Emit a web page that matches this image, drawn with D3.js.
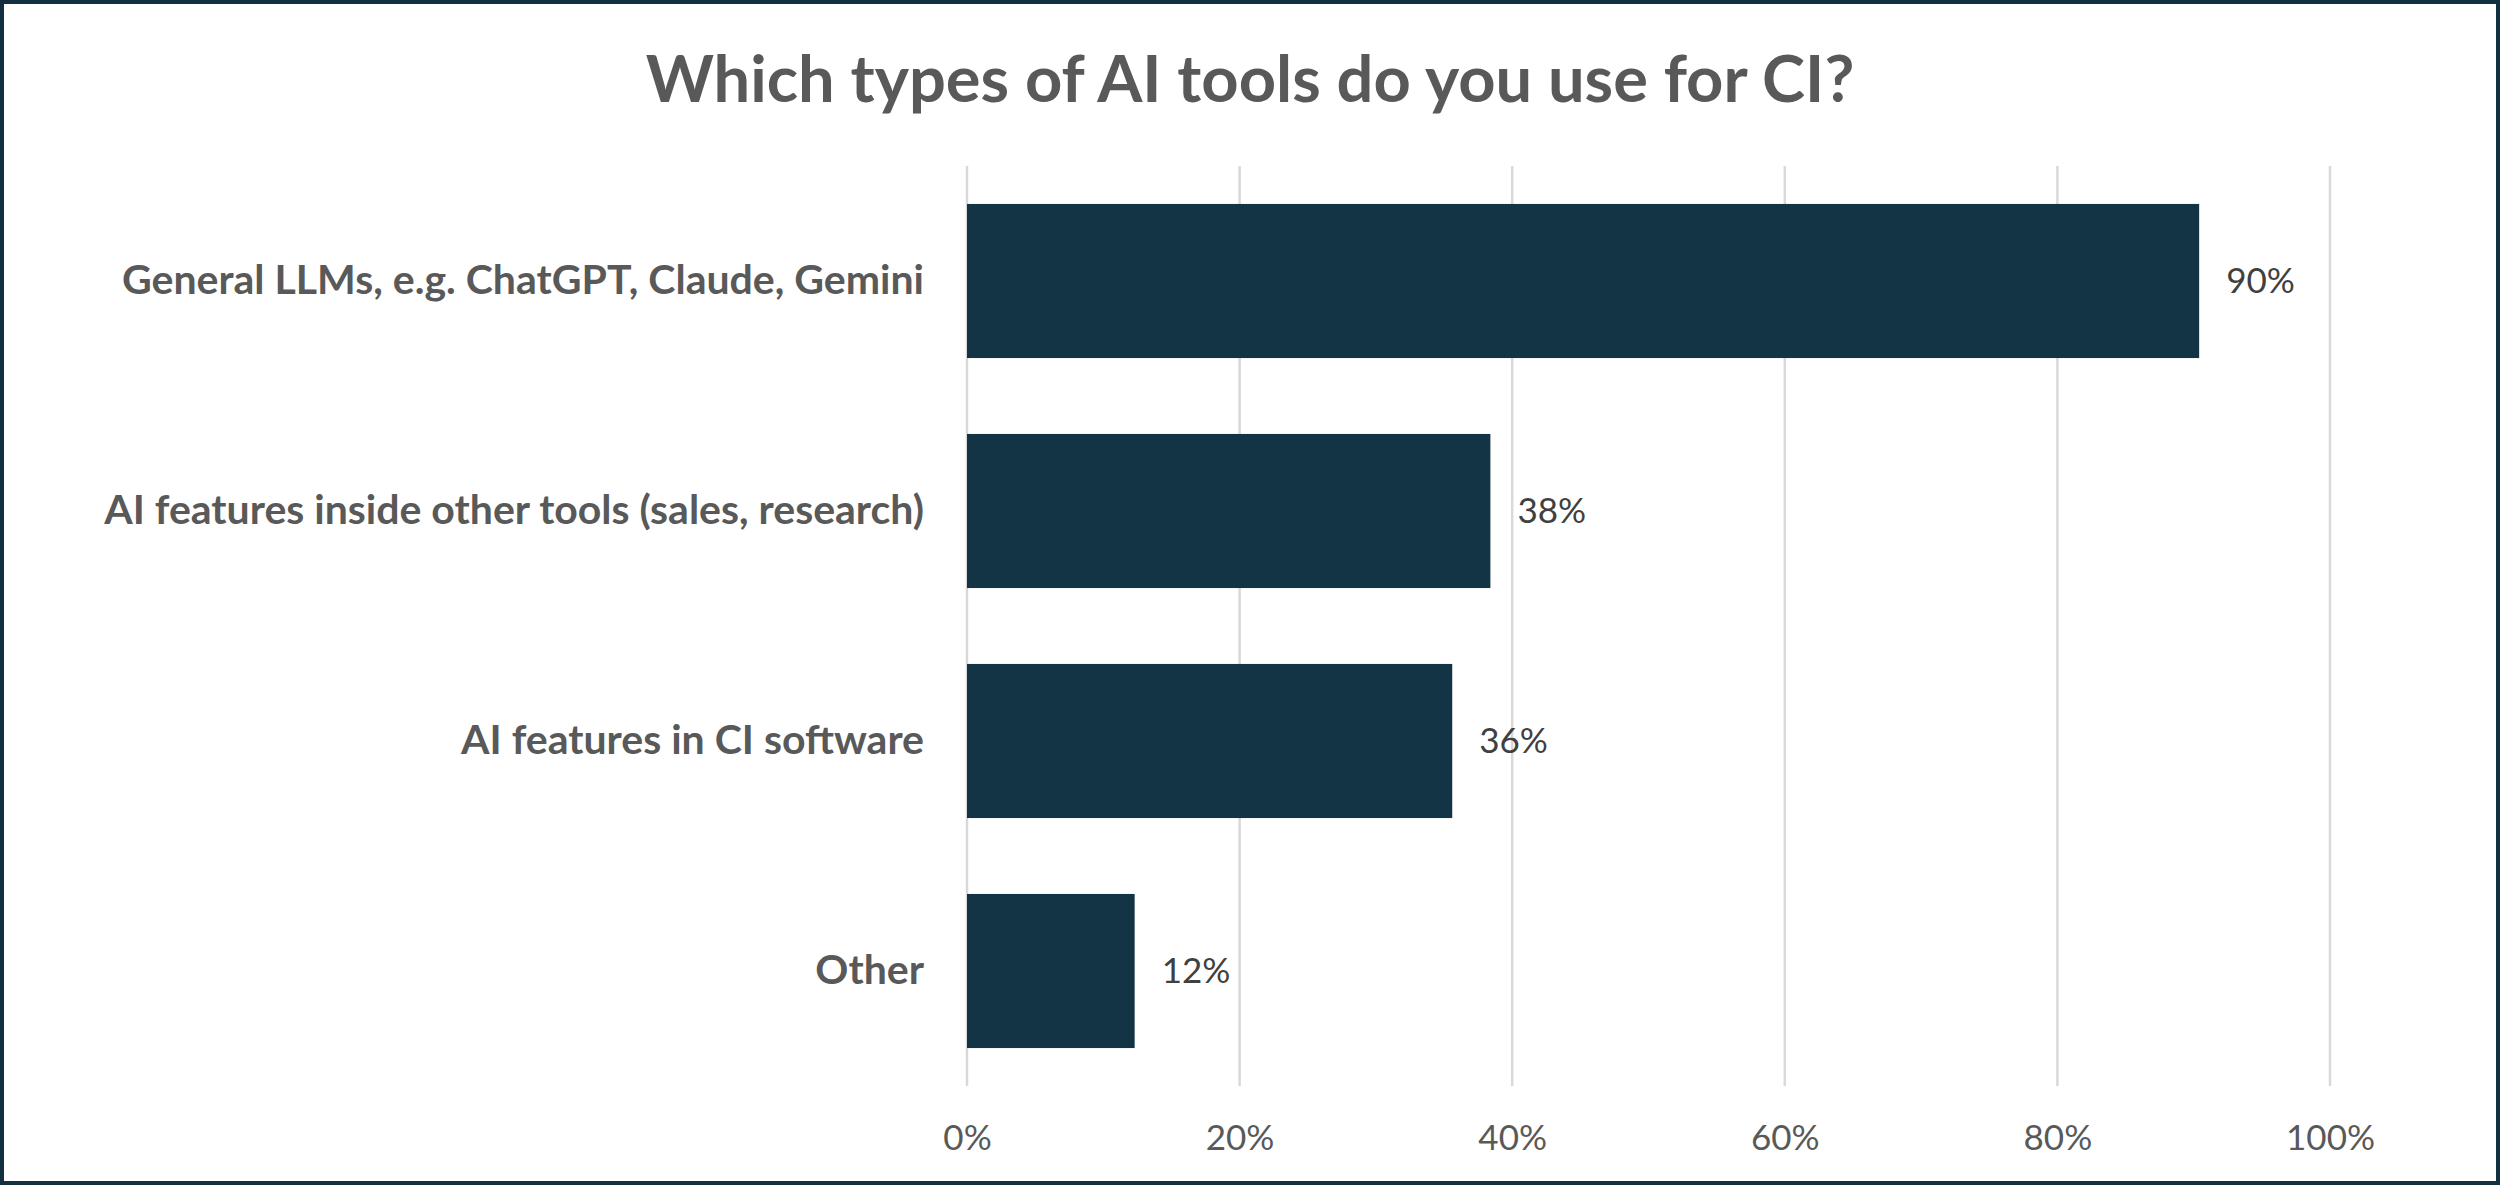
<!DOCTYPE html>
<html>
<head>
<meta charset="utf-8">
<script src="https://cdn.jsdelivr.net/npm/d3@7"></script>
<style>
  html, body { margin: 0; padding: 0; background: #fff; }
  svg { display: block; }
</style>
</head>
<body>
<script>
(function() {
  // Chart data
  const categories = [
    "General LLMs, e.g. ChatGPT, Claude, Gemini",
    "AI features inside other tools (sales, research)",
    "AI features in CI software",
    "Other"
  ];
  const shares = [90.4, 38.4, 35.6, 12.3];
  const xTicks = [0, 20, 40, 60, 80, 100];
  const titleText = "Which types of AI tools do you use for CI?";

  const W = 2500, H = 1185;
  const margin = { top: 166, right: 170, bottom: 99, left: 967 };

  const svg = d3.select("body").append("svg")
    .attr("width", W)
    .attr("height", H);

  // white background with dark frame
  svg.append("rect")
    .attr("x", 2).attr("y", 2)
    .attr("width", W - 4).attr("height", H - 4)
    .attr("fill", "#fff")
    .attr("stroke", "#12303f")
    .attr("stroke-width", 4);

  svg.append("text")
    .attr("x", 1250)
    .attr("y", 102)
    .attr("text-anchor", "middle")
    .style("font-family", "Lato, 'Open Sans', sans-serif")
    .style("font-weight", 700)
    .style("font-size", "65px")
    .style("fill", "#595959")
    .text(titleText);

  const x = d3.scaleLinear()
    .domain([0, 100])
    .range([margin.left, W - margin.right]);

  const y = d3.scaleBand()
    .domain(categories)
    .range([margin.top, H - margin.bottom])
    .paddingInner(0.33)
    .paddingOuter(0.165);

  // vertical gridlines
  svg.append("g")
    .selectAll("line")
    .data(xTicks)
    .join("line")
    .attr("x1", d => x(d)).attr("x2", d => x(d))
    .attr("y1", margin.top).attr("y2", H - margin.bottom)
    .attr("stroke", "#d9d9d9")
    .attr("stroke-width", 2.5);

  // x axis tick labels
  const xAxis = d3.axisBottom(x)
    .tickValues(xTicks)
    .tickFormat(d => d + "%")
    .tickSize(0)
    .tickPadding(0);

  const gx = svg.append("g")
    .attr("transform", `translate(0, ${H - margin.bottom})`)
    .call(xAxis);
  gx.select(".domain").remove();
  gx.selectAll("text")
    .attr("dy", null)
    .attr("y", 64)
    .style("font-family", "Lato, 'Open Sans', sans-serif")
    .style("font-size", "35px")
    .style("fill", "#595959");

  // category labels
  const yAxis = d3.axisLeft(y).tickSize(0).tickPadding(43);
  const gy = svg.append("g")
    .attr("transform", `translate(${margin.left}, 0)`)
    .call(yAxis);
  gy.select(".domain").remove();
  gy.selectAll("text")
    .style("font-family", "Lato, 'Open Sans', sans-serif")
    .style("font-weight", 700)
    .style("font-size", "41px")
    .style("fill", "#595959");

  // bars
  svg.append("g")
    .selectAll("rect")
    .data(shares)
    .join("rect")
    .attr("x", x(0))
    .attr("y", (d, i) => y(categories[i]))
    .attr("width", d => x(d) - x(0))
    .attr("height", y.bandwidth())
    .attr("fill", "#133445");

  // value labels
  svg.append("g")
    .selectAll("text")
    .data(shares)
    .join("text")
    .attr("x", d => x(d) + 27)
    .attr("y", (d, i) => y(categories[i]) + y.bandwidth() / 2)
    .attr("dy", "0.35em")
    .style("font-family", "Lato, 'Open Sans', sans-serif")
    .style("font-size", "35px")
    .style("fill", "#404040")
    .text(d => Math.round(d) + "%");
})();
</script>
</body>
</html>
